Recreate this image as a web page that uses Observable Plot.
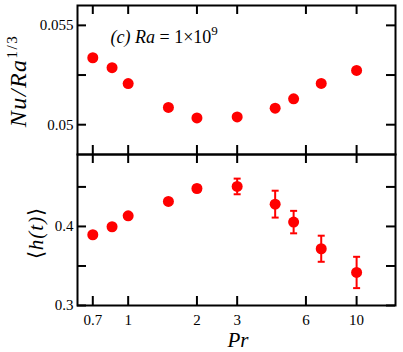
<!DOCTYPE html>
<html><head><meta charset="utf-8">
<script src="https://cdn.jsdelivr.net/npm/d3@7"></script>
<script src="https://cdn.jsdelivr.net/npm/@observablehq/plot@0.6"></script>
<style>body{margin:0;background:#fff} #chart svg{display:block}</style>
</head><body><div id="chart"></div>
<script>
// ---- data ----
const pr   = [0.7, 0.85, 1, 1.5, 2, 3, 4.4, 5.3, 7, 10];
const nu   = [0.05337, 0.05287, 0.05207, 0.05087, 0.05034, 0.05039, 0.05083, 0.0513, 0.05208, 0.05273];
const hMean= [0.3895, 0.3996, 0.4135, 0.4316, 0.448, 0.4506, 0.4282, 0.4055, 0.3718, 0.3418];
const hErr = [0, 0, 0, 0, 0.004, 0.0099, 0.017, 0.0142, 0.0165, 0.0198];
const xTicks = [0.7, 1, 2, 3, 6, 10];
const nuTicks = [0.05, 0.0525, 0.055];
const nuLabels = [0.05, 0.055];
const hTicks = [0.3, 0.35, 0.4, 0.45];
const hLabels = [0.3, 0.4];

// ---- layout ----
const W = 403, ML = 77, MR = 8, TL = 9;
const FW = W - ML - MR;
const topH = 154, topMT = 5, topFH = topH - topMT;
const botH = 198, botMB = 47, botFH = botH - botMB;
const FAM = "Liberation Serif";
const red = "#ff0000";
const xOpts = {type: "log", domain: [0.6, 14.8], axis: null};

const rows = pr.map((p, i) => ({pr: p, nu: nu[i], h: hMean[i], lo: hMean[i] - hErr[i], hi: hMean[i] + hErr[i], err: hErr[i]}));
const errRows = rows.filter(d => d.err > 0);
const capSymbol = {draw(ctx) { ctx.moveTo(-3.5, 0); ctx.lineTo(3.5, 0); }};

const styleStr = "font-family: 'Liberation Serif', serif; font-size: 15px; background: white; color: black; overflow: visible;";

const topPlot = Plot.plot({
  width: W, height: topH, marginLeft: ML, marginRight: MR, marginTop: topMT, marginBottom: 0,
  style: styleStr,
  x: xOpts,
  y: {domain: [0.0485, 0.056], axis: null},
  marks: [
    Plot.ruleX(xTicks, {insetBottom: topFH - TL, strokeWidth: 2}),
    Plot.ruleX(xTicks, {insetTop: topFH - TL, strokeWidth: 2}),
    Plot.ruleY(nuTicks, {insetRight: FW - TL, strokeWidth: 2}),
    Plot.ruleY(nuTicks, {insetLeft: FW - TL, strokeWidth: 2}),
    Plot.axisY(nuLabels, {tickSize: 0, tickPadding: 4, fontSize: 15, fontFamily: FAM, label: null, tickFormat: d => String(d)}),
    Plot.dot(rows, {x: "pr", y: "nu", r: 5.5, fill: red}),
    Plot.text(["(c) Ra = 1×10"], {frameAnchor: "top-left", dx: 33, dy: 37, lineAnchor: "bottom", textAnchor: "start", fontSize: 18, fontFamily: FAM, className: "anno"}),
    Plot.frame({strokeWidth: 2})
  ]
});

const botPlot = Plot.plot({
  width: W, height: botH, marginLeft: ML, marginRight: MR, marginTop: 0, marginBottom: botMB,
  style: styleStr,
  x: xOpts,
  y: {domain: [0.3, 0.491], axis: null},
  marks: [
    Plot.ruleX(xTicks, {insetBottom: botFH - TL, strokeWidth: 2}),
    Plot.ruleX(xTicks, {insetTop: botFH - TL, strokeWidth: 2}),
    Plot.ruleY(hTicks, {insetRight: FW - TL, strokeWidth: 2}),
    Plot.ruleY(hTicks, {insetLeft: FW - TL, strokeWidth: 2}),
    Plot.axisY(hLabels, {tickSize: 0, tickPadding: 4, fontSize: 15, fontFamily: FAM, label: null, tickFormat: d => String(d)}),
    Plot.text(xTicks, {x: d => d, frameAnchor: "bottom", lineAnchor: "bottom", dy: 19, fontSize: 15, fontFamily: FAM, text: d => String(d)}),
    Plot.ruleX(errRows, {x: "pr", y1: "lo", y2: "hi", stroke: red, strokeWidth: 2}),
    Plot.dot(errRows, {x: "pr", y: "lo", symbol: capSymbol, stroke: red, strokeWidth: 2, fill: "none"}),
    Plot.dot(errRows, {x: "pr", y: "hi", symbol: capSymbol, stroke: red, strokeWidth: 2, fill: "none"}),
    Plot.dot(rows, {x: "pr", y: "h", r: 5.5, fill: red}),
    Plot.frame({strokeWidth: 2})
  ]
});

const chart = document.getElementById("chart");
chart.append(topPlot, botPlot);

// annotation with italic parts and superscript
const anno = d3.select(topPlot).select(".anno text");
anno.text(null).attr("xml:space", "preserve");
anno.append("tspan").attr("font-style", "italic").text("(c) ");
anno.append("tspan").attr("font-style", "italic").text("Ra");
anno.append("tspan").text(" = 1×10");
anno.append("tspan").attr("font-size", 13).attr("dy", -8).text("9");

// axis titles
const ts = d3.select(topPlot);
const t1 = ts.append("text").attr("transform", "translate(26,81) rotate(-90)")
  .attr("text-anchor", "middle").attr("font-size", 24)
  .attr("letter-spacing", 1.5).attr("fill", "black");
t1.append("tspan").attr("font-style", "italic").text("Nu/Ra");
t1.append("tspan").attr("font-size", 15).attr("dy", -9).text("1/3");

const bs = d3.select(botPlot);
const t2 = bs.append("text").attr("transform", `translate(43,${233 - topH}) rotate(-90)`)
  .attr("text-anchor", "middle").attr("font-size", 21)
  .attr("letter-spacing", 1).attr("fill", "black");
t2.append("tspan").text("⟨");
t2.append("tspan").attr("font-style", "italic").text("h(t)");
t2.append("tspan").text("⟩");
bs.append("text").attr("x", 238).attr("y", 347 - topH)
  .attr("text-anchor", "middle").attr("font-size", 21)
  .attr("font-style", "italic").attr("fill", "black").text("Pr");

// serif family on every text node
for (const svg of [topPlot, botPlot]) {
  svg.setAttribute("font-family", FAM);
  svg.querySelectorAll("text, tspan").forEach(el => {
    el.setAttribute("font-family", FAM);
    el.style.setProperty("font-family", "'Liberation Serif', serif", "important");
  });
}
</script>
</body></html>
